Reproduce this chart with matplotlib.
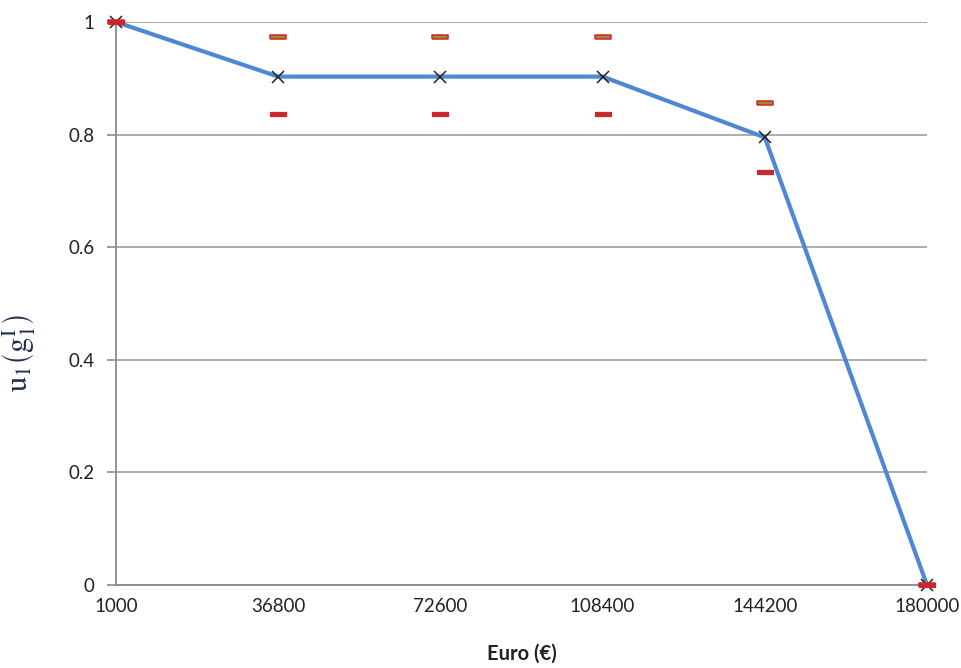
import numpy as np
import matplotlib
matplotlib.use('Agg')
import matplotlib.pyplot as plt

# category axis (Euro amounts) and utility values
categories = ['1000', '36800', '72600', '108400', '144200', '180000']
utility = [1.0, 0.903, 0.903, 0.903, 0.795, 0.0]
upper = [1.0, 0.973, 0.973, 0.973, 0.857, 0.0]
lower = [1.0, 0.837, 0.837, 0.837, 0.734, 0.0]
yticks = [0, 0.2, 0.4, 0.6, 0.8, 1]
ytick_labels = ['0', '0.2', '0.4', '0.6', '0.8', '1']

plt.rcParams['font.family'] = ['Lato', 'DejaVu Sans']
plt.rcParams['mathtext.fontset'] = 'stix'

fig = plt.figure(figsize=(9.62, 6.68), dpi=100)
ax = fig.add_axes([116 / 962, 1 - 585 / 668, 811 / 962, 563 / 668])

x = np.arange(len(categories))

# flat bar marker for the high / low values
bar = [(-1, -0.22), (1, -0.22), (1, 0.22), (-1, 0.22), (-1, -0.22)]

ax.plot(x, utility, color='#4f88d2', linewidth=3.0, zorder=3, clip_on=False)
ax.plot(x, utility, linestyle='none', marker='x', color='#222222',
        markersize=9, markeredgewidth=1.1, zorder=4, clip_on=False)
ax.plot(x, upper, linestyle='none', marker=bar, markersize=12,
        markerfacecolor='#a08a2a', markeredgecolor='#d0262c',
        markeredgewidth=1.1, zorder=5, clip_on=False)
ax.plot(x, lower, linestyle='none', marker=bar, markersize=12,
        markerfacecolor='#c8282e', markeredgecolor='#d0262c',
        markeredgewidth=0.9, zorder=5, clip_on=False)

ax.set_xlim(0, len(categories) - 1)
ax.set_ylim(0, 1)
ax.set_xticks(x)
ax.set_xticklabels(categories)
ax.set_yticks(yticks)
ax.set_yticklabels(ytick_labels)

ax.grid(axis='y', color='#a6a6a6', linewidth=1.3)
ax.set_axisbelow(True)
for side in ['top', 'right']:
    ax.spines[side].set_visible(False)
ax.spines['left'].set_color('#8c8c8c')
ax.spines['bottom'].set_color('#8c8c8c')
ax.spines['left'].set_linewidth(1.3)
ax.spines['bottom'].set_linewidth(1.3)

ax.tick_params(axis='x', length=0, pad=9, labelsize=13.5, labelcolor='#222222')
ax.tick_params(axis='y', length=6.5, width=1.2, color='#8c8c8c', pad=9,
               labelsize=13.5, labelcolor='#222222')

ax.set_xlabel('Euro (€)', fontsize=14.5, fontweight='bold', color='#222222')
ax.xaxis.set_label_coords(0.5, -0.105)
ax.set_ylabel(r'$\mathrm{u}_1\left(\mathrm{g}_1^{\mathrm{I}}\right)$',
              fontsize=22, color='#1f2d4d')
ax.yaxis.set_label_coords(-0.096, 0.412)

fig.savefig('out.png', dpi=100)
